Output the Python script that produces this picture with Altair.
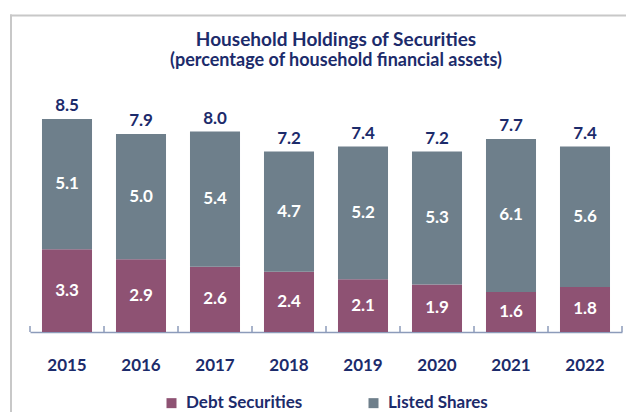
import altair as alt
import pandas as pd

years = ["2015", "2016", "2017", "2018", "2019", "2020", "2021", "2022"]
debt = [3.3, 2.9, 2.6, 2.4, 2.1, 1.9, 1.6, 1.8]
listed = [5.1, 5.0, 5.4, 4.7, 5.2, 5.3, 6.1, 5.6]
total = [8.5, 7.9, 8.0, 7.2, 7.4, 7.2, 7.7, 7.4]
series = ["Debt Securities", "Listed Shares"]

NAVY = "#1C2B6B"
C_DEBT = "#8E5273"
C_LISTED = "#6E7F8B"
AXIS_C = "#8C9BBA"
FONT = "Lato"

rows = []
for y, d, l, t in zip(years, debt, listed, total):
    rows.append({"year": y, "series": series[0], "start": 0.0, "end": d, "label": f"{d:.1f}"})
    rows.append({"year": y, "series": series[1], "start": d, "end": t, "label": f"{l:.1f}"})
seg = pd.DataFrame(rows)
tot = pd.DataFrame({"year": years, "total": total, "label": [f"{t:.1f}" for t in total]})

W, H = 592, 250.6
P_IN, P_OUT = 0.324, 0.162
STEP = W / (len(years) - P_IN + 2 * P_OUT)
GAP = STEP * P_IN / 2
xscale = alt.Scale(domain=years, paddingInner=P_IN, paddingOuter=P_OUT)
yscale = alt.Scale(domain=[0, 10])

bars = alt.Chart(seg).mark_bar().encode(
    x=alt.X("year:N", scale=xscale, sort=years,
            axis=alt.Axis(title=None, labelAngle=0, ticks=False, tickSize=0, domain=True,
                          domainColor=AXIS_C, domainWidth=1.5, labelPadding=25,
                          labelFont=FONT, labelFontSize=17, labelFontWeight="bold",
                          labelColor=NAVY)),
    y=alt.Y("start:Q", scale=yscale, axis=None),
    y2="end:Q",
    color=alt.Color("series:N", scale=alt.Scale(domain=series, range=[C_DEBT, C_LISTED]),
                    legend=alt.Legend(title=None, orient="none", direction="horizontal",
                                      legendX=133, legendY=313, symbolType="square",
                                      symbolSize=100, symbolStrokeWidth=0, symbolOpacity=1,
                                      labelFont=FONT, labelFontSize=17, labelFontWeight="bold",
                                      labelColor=NAVY, labelOffset=6, columnPadding=62,
                                      padding=0)),
)

seg_text = alt.Chart(seg).transform_calculate(
    mid="(datum.start + datum.end) / 2"
).mark_text(color="white", font=FONT, fontSize=17, fontWeight="bold", baseline="middle").encode(
    x=alt.X("year:N", scale=xscale, sort=years),
    y=alt.Y("mid:Q", scale=yscale),
    text="label:N",
)

tot_text = alt.Chart(tot).mark_text(color=NAVY, font=FONT, fontSize=17, fontWeight="bold",
                                    baseline="alphabetic", dy=-8).encode(
    x=alt.X("year:N", scale=xscale, sort=years),
    y=alt.Y("total:Q", scale=yscale),
    text="label:N",
)

# small tick marks at the band boundaries, pointing up from the axis line
ticks_left = alt.Chart(tot).mark_rule(color=AXIS_C, strokeWidth=1.5, xOffset=-GAP).encode(
    x=alt.X("year:N", scale=xscale, sort=years, bandPosition=0),
    y=alt.value(H), y2=alt.value(H - 6),
)
ticks_right = alt.Chart(tot.tail(1)).mark_rule(color=AXIS_C, strokeWidth=1.5, xOffset=GAP).encode(
    x=alt.X("year:N", scale=xscale, sort=years, bandPosition=1),
    y=alt.value(H), y2=alt.value(H - 6),
)

frame_df = pd.DataFrame({"k": [0]})
frame_v = alt.Chart(frame_df).mark_rule(color="#C8C8C8", strokeWidth=2).encode(
    x=alt.value(-19), y=alt.value(-67), y2=alt.value(340))
frame_h = alt.Chart(frame_df).mark_rule(color="#C8C8C8", strokeWidth=2).encode(
    x=alt.value(-20), x2=alt.value(600), y=alt.value(-66))

chart = alt.layer(frame_v, frame_h, bars, seg_text, tot_text, ticks_left, ticks_right).properties(
    width=W, height=H,
    autosize=alt.AutoSizeParams(type="none"),
    padding={"left": 22, "top": 73.4, "right": 4, "bottom": 80},
    title=alt.TitleParams(
        text="Household Holdings of Securities",
        subtitle="(percentage of household financial assets)",
        anchor="middle", frame="group", dx=10, offset=-57,
        font=FONT, fontSize=19, fontWeight="bold", color=NAVY,
        subtitleFont=FONT, subtitleFontSize=18, subtitleFontWeight="bold",
        subtitleColor=NAVY, subtitlePadding=2,
    ),
).configure_view(stroke=None)

chart.save("out.html", embed_options={"renderer": "svg", "actions": False})
